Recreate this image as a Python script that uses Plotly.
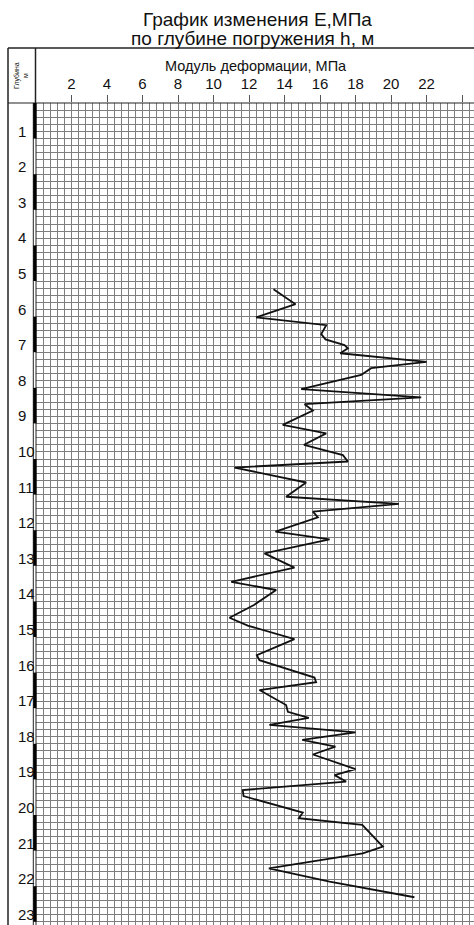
import plotly.graph_objects as go

# ---- data ----
depth_m = [5.23, 5.65, 6.02, 6.24, 6.49, 6.64, 6.80, 6.89, 7.03, 7.27, 7.45, 7.64, 8.04, 8.27, 8.46,
           8.64, 9.04, 9.28, 9.60, 9.89, 10.07, 10.24, 10.66, 11.06, 11.26, 11.48, 11.64, 12.04, 12.26,
           12.65, 13.05, 13.45, 13.68, 14.10, 14.46, 14.68, 15.06, 15.51, 15.65, 16.14, 16.27, 16.49,
           16.91, 17.10, 17.27, 17.47, 17.68, 17.89, 18.08, 18.30, 18.71, 18.88, 19.06, 19.30, 19.47,
           19.93, 20.09, 20.28, 20.89, 21.08, 21.50, 21.87, 22.31]
modulus_mpa = [13.38, 14.62, 12.40, 16.35, 16.07, 16.31, 17.38, 17.57, 17.14, 22.0, 18.88, 18.32, 14.94,
               21.70, 15.13, 15.60, 13.90, 16.35, 15.10, 17.29, 17.57, 11.18, 15.22, 14.09, 20.44, 15.60,
               15.88, 13.49, 16.54, 12.87, 14.56, 11.00, 13.53, 12.28, 10.90, 11.93, 14.56, 12.44, 12.59,
               15.69, 15.78, 12.59, 14.09, 14.19, 15.37, 13.15, 18.00, 15.00, 16.87, 15.60, 18.00, 16.82,
               17.47, 11.65, 11.69, 15.03, 14.81, 18.38, 19.54, 18.41, 13.12, 16.54, 21.32]

x_tick_vals = [2, 4, 6, 8, 10, 12, 14, 16, 18, 20, 22, 24]
x_tick_text = ["2", "4", "6", "8", "10", "12", "14", "16", "18", "20", "22", ""]
depth_labels = list(range(1, 24))

title_line1 = "График изменения Е,МПа"
title_line2 = "по глубине погружения h, м"
x_title = "Модуль деформации, МПа"
depth_header = "Глубина<br>м"

# ---- geometry helpers (pixels -> paper) ----
W, H = 474, 925
L, R, T, B = 36, 0, 103, 0
PW, PH = W - L - R, H - T - B


def px(x):
    return (x - L) / PW


def py(y):
    return (H - B - y) / PH


FONT = "Liberation Sans, Arial, sans-serif"
GRID = "#7e7e7e"

fig = go.Figure()
fig.add_trace(go.Scatter(x=modulus_mpa, y=depth_m, mode="lines",
                         line=dict(color="#111111", width=1.8), showlegend=False,
                         hoverinfo="skip"))

fig.update_xaxes(range=[0, PW / 17.75], side="top", tickmode="array",
                 tickvals=x_tick_vals, ticktext=x_tick_text, ticks="outside", ticklen=7,
                 tickcolor="#555555", tickwidth=1,
                 tickfont=dict(family=FONT, size=15, color="#111111"),
                 showgrid=True, gridcolor=GRID, gridwidth=1, zeroline=False,
                 showline=False,
                 minor=dict(tickmode="linear", tick0=0, dtick=0.4, showgrid=True,
                            gridcolor=GRID, gridwidth=1))
fig.update_yaxes(range=[PH / 35.6, 0], showticklabels=False, ticks="",
                 tickmode="linear", tick0=0, dtick=1,
                 showgrid=True, gridcolor=GRID, gridwidth=1, zeroline=False, showline=False,
                 minor=dict(tickmode="linear", tick0=0, dtick=0.2, showgrid=True,
                            gridcolor=GRID, gridwidth=1))

shapes = []
line_col = "#222222"
# frame lines
shapes.append(dict(type="line", xref="paper", yref="paper", x0=px(8), x1=px(W + 2),
                   y0=py(48), y1=py(48), line=dict(color=line_col, width=1.5)))
shapes.append(dict(type="line", xref="paper", yref="paper", x0=px(8), x1=px(8),
                   y0=py(48), y1=py(H + 2), line=dict(color=line_col, width=1.5)))
shapes.append(dict(type="line", xref="paper", yref="paper", x0=px(8), x1=px(W + 2),
                   y0=py(103), y1=py(103), line=dict(color=line_col, width=1.2)))
shapes.append(dict(type="line", xref="paper", yref="paper", x0=px(35.5), x1=px(35.5),
                   y0=py(48), y1=py(103), line=dict(color=line_col, width=1.5)))
# depth bar outline
shapes.append(dict(type="line", xref="paper", yref="paper", x0=px(33.3), x1=px(33.3),
                   y0=py(103), y1=py(H + 2), line=dict(color=line_col, width=1)))
shapes.append(dict(type="line", xref="paper", yref="paper", x0=px(36), x1=px(36),
                   y0=py(103), y1=py(H + 2), line=dict(color=line_col, width=1)))
# alternating black metre segments
for n in range(0, 24, 2):
    shapes.append(dict(type="rect", xref="paper", yref="y", x0=px(33.3), x1=px(36.5),
                       y0=n, y1=n + 1, fillcolor="#000000", line=dict(width=0)))

annotations = [
    dict(text=title_line1, xref="paper", yref="paper", x=px(257.5), y=py(20),
         xanchor="center", yanchor="middle", showarrow=False,
         font=dict(family=FONT, size=19, color="#111111")),
    dict(text=title_line2, xref="paper", yref="paper", x=px(252), y=py(38.5),
         xanchor="center", yanchor="middle", showarrow=False,
         font=dict(family=FONT, size=19, color="#111111")),
    dict(text=x_title, xref="paper", yref="paper", x=px(256), y=py(66),
         xanchor="center", yanchor="middle", showarrow=False,
         font=dict(family=FONT, size=14.5, color="#111111")),
    dict(text=depth_header, xref="paper", yref="paper", x=px(21), y=py(76),
         xanchor="center", yanchor="middle", showarrow=False, textangle=-90,
         font=dict(family=FONT, size=7, color="#111111")),
]
for n in depth_labels:
    annotations.append(dict(text=str(n), xref="paper", yref="y", x=px(16), y=n,
                            xanchor="left", yanchor="bottom", yshift=-3, showarrow=False,
                            font=dict(family=FONT, size=15, color="#111111")))

fig.update_layout(width=W, height=H, margin=dict(l=L, r=R, t=T, b=B, pad=0),
                  paper_bgcolor="white", plot_bgcolor="white",
                  shapes=shapes, annotations=annotations, showlegend=False)

fig.write_html("out.html", config={"displayModeBar": False},
               post_script="document.body.style.margin='0';document.body.style.overflow='hidden';")
